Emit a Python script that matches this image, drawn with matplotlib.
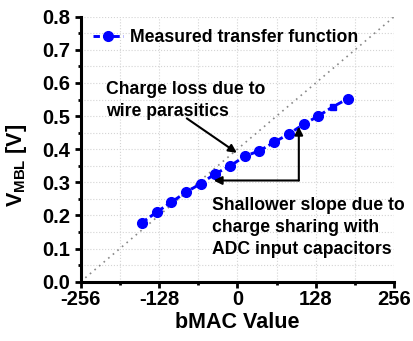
import matplotlib
matplotlib.use('Agg')
from matplotlib import pyplot as plt
import matplotlib as mpl
import numpy as np

mpl.rc('font', family='Liberation Sans', weight='bold', size=12.7)
mpl.rc('axes', linewidth=2.2, labelweight='bold')
mpl.rc('mathtext', fontset='custom', rm='Liberation Sans:bold', bf='Liberation Sans:bold')
mpl.rc('xtick.major', size=4, width=2)
mpl.rc('xtick.minor', size=2.5, width=2)
mpl.rc('ytick.major', size=4.3, width=2)
mpl.rc('ytick.minor', size=2.5, width=2)

# measured transfer function of the MBL voltage
bmac = [-156, -132, -108, -84, -60, -36, -12, 12, 36, 60, 84, 108, 132, 156, 180]
vmbl = [0.178, 0.210, 0.240, 0.270, 0.296, 0.326, 0.349, 0.379, 0.395,
        0.421, 0.446, 0.475, 0.500, 0.528, 0.552]
square_idx = [13]

# ideal line through the full range
ideal_x = [-256, 256]
ideal_y = [0.0, 0.8]

xticks = [-256, -128, 0, 128, 256]
yticks = [0.0, 0.1, 0.2, 0.3, 0.4, 0.5, 0.6, 0.7, 0.8]

fig = plt.figure(figsize=(4.14, 3.41), dpi=100)
ax = fig.add_axes([0.195, 0.174, 0.757, 0.777])

ax.plot(ideal_x, ideal_y, color='#888888', lw=1.2, ls=(0, (1, 2.6)), zorder=2)

round_idx = [i for i in range(len(bmac)) if i not in square_idx]
ax.plot(bmac, vmbl, color='#0000ff', lw=2.1, ls=(0, (2.2, 1.2)), marker='o',
        ms=7, markevery=round_idx, label='Measured transfer function', zorder=3)
ax.plot([bmac[i] for i in square_idx], [vmbl[i] for i in square_idx], ls='none',
        marker='s', ms=4, color='#0000ff', zorder=3)

ax.set_xlim(-256, 256)
ax.set_ylim(0, 0.8)
ax.set_xticks(xticks)
ax.set_xticklabels([str(t) for t in xticks])
ax.set_xticks(np.arange(-192, 256, 128), minor=True)
ax.set_yticks(yticks)
ax.set_yticklabels(['%.1f' % t for t in yticks])
ax.set_yticks(np.arange(0.05, 0.8, 0.1), minor=True)
ax.tick_params(axis='x', which='both', direction='out', pad=2, labelsize=14.5)
ax.tick_params(axis='y', which='both', direction='out', pad=3, labelsize=14.5)
ax.spines['top'].set_visible(False)
ax.spines['right'].set_visible(False)
ax.grid(True, which='both', color='#d4d4d4', ls=':', lw=0.8, zorder=0)
ax.set_axisbelow(True)

ax.set_xlabel('bMAC Value', fontsize=15.5, labelpad=2)
ax.set_ylabel(r'$\mathbf{V_{MBL}}$ [V]', fontsize=15.5)
ax.yaxis.set_label_coords(-0.165, 0.437)

ax.legend(loc='center left', bbox_to_anchor=(0.039, 0.921), frameon=False,
          borderaxespad=0, borderpad=0, handlelength=1.7, handletextpad=0.4,
          fontsize=12.7)

arrow = dict(arrowstyle='-|>', color='black', lw=1.5, mutation_scale=12,
             shrinkA=0, shrinkB=0)
ax.text(-214.5, 0.605, 'Charge loss due to\nwire parasitics', ha='left', va='top',
        linespacing=1.4)
ax.annotate('', xy=(-1, 0.389), xytext=(-82.7, 0.493), arrowprops=arrow)

ax.text(-41.8, 0.256, 'Shallower slope due to\ncharge sharing with\nADC input capacitors',
        ha='left', va='top', linespacing=1.4)
corner = (100.3, 0.3055)
ax.annotate('', xy=(-38.9, 0.3055), xytext=corner, arrowprops=arrow)
ax.annotate('', xy=(100.3, 0.468), xytext=corner, arrowprops=arrow)

fig.savefig('out.png', dpi=100)
